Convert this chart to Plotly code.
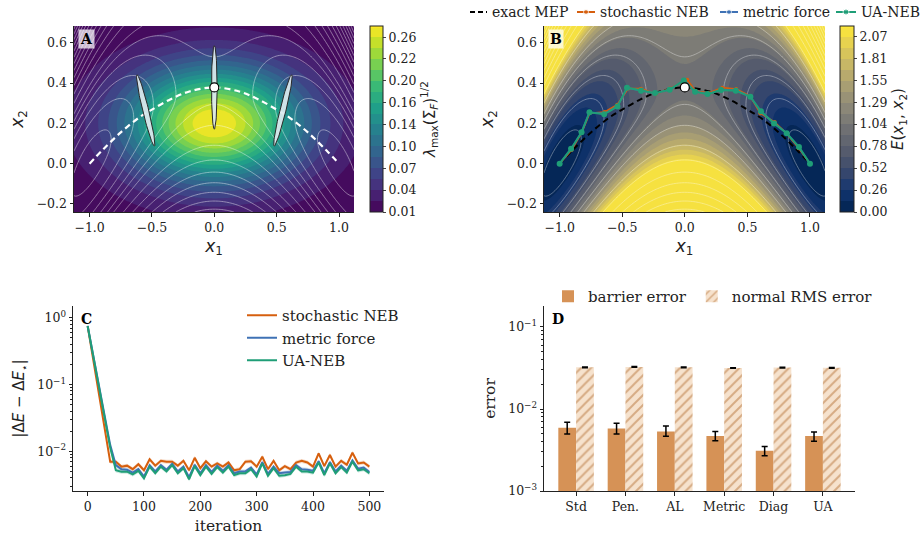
import numpy as np
import plotly.graph_objects as go

W, H = 924, 542
def px(x): return x / W
def py(y): return 1 - y / H

SERIF = "DejaVu Serif"
SANS = "DejaVu Sans"
INK = "#222222"
C_SN, C_MF, C_UA = "#d65f0e", "#3f72b5", "#1f9e77"

# ---------------- data: panels A/B ----------------
x1_range = [-1.125, 1.12]
x2_range = [-0.24, 0.683]

# exact minimum energy path
mep_x1 = [-1.0, -0.9, -0.75, -0.6, -0.5, -0.35, -0.2, 0.0, 0.2, 0.35, 0.5, 0.6, 0.75, 0.9, 1.0]
mep_x2 = [0.0, 0.065, 0.155, 0.23, 0.268, 0.32, 0.358, 0.378, 0.358, 0.32, 0.268, 0.23, 0.155, 0.065, 0.0]
saddle_x1 = [0.0]
saddle_x2 = [0.378]

# uncertainty ellipses (centre, major half-axis vector, minor half-axis vector)
ell_cx = [-0.55, 0.0, 0.55]
ell_cy = [0.264, 0.378, 0.264]
ell_ax = [-0.07, 0.0, 0.07]
ell_ay = [0.177, 0.207, 0.177]
ell_bx = [0.0233, 0.0225, 0.0233]
ell_by = [0.0036, 0.0, -0.0036]

# NEB paths (panel B)
ua_x1 = [-1.0, -0.909, -0.825, -0.762, -0.644, -0.538, -0.462, -0.350, -0.237, -0.121, -0.008,
         0.082, 0.181, 0.290, 0.407, 0.524, 0.609, 0.713, 0.814, 0.912, 1.0]
ua_x2 = [0.0, 0.074, 0.156, 0.255, 0.245, 0.283, 0.377, 0.362, 0.350, 0.367, 0.412,
         0.357, 0.345, 0.365, 0.362, 0.332, 0.260, 0.199, 0.151, 0.083, 0.0]
sn_x1 = [-1.0, -0.905, -0.824, -0.760, -0.640, -0.540, -0.452, -0.350, -0.232, -0.120, 0.020,
         0.085, 0.190, 0.300, 0.410, 0.520, 0.603, 0.718, 0.812, 0.910, 1.0]
sn_x2 = [0.0, 0.068, 0.152, 0.250, 0.256, 0.292, 0.373, 0.372, 0.345, 0.373, 0.416,
         0.360, 0.350, 0.377, 0.370, 0.336, 0.250, 0.206, 0.150, 0.076, 0.0]
mf_x1 = [-1.0, -0.908, -0.825, -0.762, -0.643, -0.538, -0.460, -0.350, -0.236, -0.121, -0.004,
         0.083, 0.183, 0.292, 0.408, 0.523, 0.607, 0.714, 0.814, 0.911, 1.0]
mf_x2 = [0.0, 0.073, 0.155, 0.254, 0.248, 0.285, 0.376, 0.364, 0.349, 0.368, 0.413,
         0.358, 0.346, 0.367, 0.364, 0.333, 0.257, 0.201, 0.151, 0.081, 0.0]

cbA_ticks = [0.0095, 0.041, 0.0725, 0.104, 0.135, 0.167, 0.198, 0.230, 0.261]
cbA_text = ["0.01", "0.04", "0.07", "0.10", "0.14", "0.16", "0.20", "0.22", "0.26"]
cbB_ticks = [0.00, 0.26, 0.52, 0.78, 1.04, 1.29, 1.55, 1.81, 2.07]

# ---------------- data: panel C ----------------
iters = list(range(0, 510, 10))
err_sn = [0.75, 0.234, 0.072, 0.0224, 0.0070, 0.0070, 0.0059, 0.0061, 0.0054, 0.0064,
          0.0052, 0.0076, 0.0061, 0.0072, 0.0070, 0.0070, 0.0061, 0.0072, 0.0052, 0.0080,
          0.0056, 0.0071, 0.0059, 0.0066, 0.0059, 0.0068, 0.0052, 0.0054, 0.0070, 0.0071,
          0.0059, 0.0083, 0.0054, 0.0072, 0.0052, 0.0060, 0.0054, 0.0068, 0.0072, 0.0068,
          0.0059, 0.0093, 0.0060, 0.0088, 0.0059, 0.0072, 0.0063, 0.0095, 0.0066, 0.0068,
          0.0059]
err_mf = [0.75, 0.27, 0.095, 0.034, 0.0125, 0.0062, 0.0054, 0.0053, 0.0048, 0.0054,
          0.0042, 0.0062, 0.0050, 0.0062, 0.0053, 0.0065, 0.0050, 0.0059, 0.0041, 0.0063,
          0.0047, 0.0062, 0.0049, 0.0061, 0.0051, 0.0062, 0.0047, 0.0050, 0.0050, 0.0057,
          0.0045, 0.0069, 0.0046, 0.0059, 0.0047, 0.0048, 0.0049, 0.0062, 0.0054, 0.0053,
          0.0051, 0.0071, 0.0047, 0.0069, 0.0050, 0.0061, 0.0051, 0.0073, 0.0055, 0.0057,
          0.0049]
err_ua = [0.75, 0.263, 0.092, 0.032, 0.0114, 0.0052, 0.00496, 0.00496, 0.00452, 0.0051,
          0.00394, 0.0059, 0.0047, 0.0059, 0.0050, 0.0062, 0.0047, 0.0056, 0.0038, 0.0060,
          0.0044, 0.0059, 0.0046, 0.0058, 0.0048, 0.0059, 0.0044, 0.0047, 0.0047, 0.0054,
          0.0042, 0.0066, 0.0043, 0.0056, 0.0043, 0.0044, 0.0046, 0.0059, 0.0050, 0.0050,
          0.0048, 0.0068, 0.0044, 0.0066, 0.0047, 0.0058, 0.0048, 0.0070, 0.0052, 0.0054,
          0.0047]
band_rel = 0.07  # relative half-width of the shaded spread

# ---------------- data: panel D ----------------
methods = ["Std", "Pen.", "AL", "Metric", "Diag", "UA"]
barrier = [0.0059, 0.0058, 0.0053, 0.0047, 0.0031, 0.0047]
barrier_hi = [0.00687, 0.00668, 0.0062, 0.00533, 0.0035, 0.00523]
barrier_lo = [0.00495, 0.00495, 0.00464, 0.0041, 0.0027, 0.00403]
rms = [0.0322, 0.0326, 0.0322, 0.0316, 0.0320, 0.0318]
rms_err = [0.0003, 0.0003, 0.0003, 0.0003, 0.0003, 0.0003]

# ---------------- fields ----------------
g1 = np.linspace(x1_range[0], x1_range[1], 181)
g2 = np.linspace(x2_range[0], x2_range[1], 121)
X, Y = np.meshgrid(g1, g2)
dd = Y - 0.378 * (1 - X**2)
kk = np.where(dd < 0, 8.5, 2.6 + 6 * X**2)
E = (1 - X**2) ** 2 + kk * dd**2
LAM = 0.0095 + 0.2675 * np.exp(-X**2 / (2 * 0.5**2) - (Y - 0.2) ** 2 / (2 * 0.2**2))

# energy iso-line sets: finer inside the wells, coarser outside
iso_sets = [(0.1, 1.3, 0.24), (1.7, 8.0, 0.4)]

fig = go.Figure()

def add_iso(xa, ya, opacity):
    for s0, s1, ds in iso_sets:
        fig.add_trace(go.Contour(
            x=g1, y=g2, z=E, xaxis=xa, yaxis=ya, autocontour=False,
            contours=dict(start=s0, end=s1, size=ds, coloring="lines"),
            colorscale=[[0, "white"], [1, "white"]], showscale=False, opacity=opacity,
            line=dict(width=0.8), showlegend=False, hoverinfo="skip"))

# ---- panel A
fig.add_trace(go.Contour(
    x=g1, y=g2, z=LAM, xaxis="x", yaxis="y", colorscale="Viridis",
    zmin=0.0095, zmax=0.277, autocontour=False,
    contours=dict(start=0.0095, end=0.277, size=(0.277 - 0.0095) / 17, coloring="fill"),
    line=dict(width=0), showlegend=False, hoverinfo="skip",
    colorbar=dict(x=px(370), xanchor="left", y=py(119), yanchor="middle",
                  len=186 / H, lenmode="fraction", thickness=13, xpad=0, ypad=0,
                  outlinewidth=1, outlinecolor=INK, ticks="outside", ticklen=3,
                  tickvals=cbA_ticks, ticktext=cbA_text,
                  tickfont=dict(family=SERIF, size=12.5, color=INK),
                  title=dict(text="<i>λ</i><sub>max</sub>(Σ<sub><i>F</i></sub>)<sup>1/2</sup>",
                             side="right", font=dict(family=SANS, size=15, color=INK)))))
add_iso("x", "y", 0.55)
fig.add_trace(go.Scatter(x=mep_x1, y=mep_x2, xaxis="x", yaxis="y", mode="lines",
                         line=dict(color="white", width=2.2, dash="6px,4px", shape="spline"),
                         showlegend=False, hoverinfo="skip"))
t = np.linspace(0, 2 * np.pi, 80)
for i in range(len(ell_cx)):
    ex = ell_cx[i] + np.cos(t) * ell_ax[i] + np.sin(t) * ell_bx[i]
    ey = ell_cy[i] + np.cos(t) * ell_ay[i] + np.sin(t) * ell_by[i]
    fig.add_trace(go.Scatter(x=ex, y=ey, xaxis="x", yaxis="y", mode="lines", fill="toself",
                             fillcolor="rgba(220,233,238,0.93)",
                             line=dict(color="#2a2a2a", width=1), showlegend=False,
                             hoverinfo="skip"))
fig.add_trace(go.Scatter(x=saddle_x1, y=saddle_x2, xaxis="x", yaxis="y", mode="markers",
                         marker=dict(size=9, color="white", line=dict(color="black", width=1.2)),
                         showlegend=False, hoverinfo="skip"))

# ---- panel B
fig.add_trace(go.Contour(
    x=g1, y=g2, z=np.minimum(E, 2.19), xaxis="x2", yaxis="y2", colorscale="Cividis",
    zmin=0, zmax=2.2, autocontour=False,
    contours=dict(start=0, end=2.2, size=2.2 / 17, coloring="fill"),
    line=dict(width=0), showlegend=False, hoverinfo="skip",
    colorbar=dict(x=px(840), xanchor="left", y=py(119), yanchor="middle",
                  len=186 / H, lenmode="fraction", thickness=14, xpad=0, ypad=0,
                  outlinewidth=1, outlinecolor=INK, ticks="outside", ticklen=3,
                  tickvals=cbB_ticks, ticktext=["%.2f" % v for v in cbB_ticks],
                  tickfont=dict(family=SERIF, size=12.5, color=INK),
                  title=dict(text="<i>E</i>(<i>x</i><sub>1</sub>, <i>x</i><sub>2</sub>)",
                             side="right", font=dict(family=SANS, size=15, color=INK)))))
add_iso("x2", "y2", 0.45)
fig.add_trace(go.Scatter(x=mep_x1, y=mep_x2, xaxis="x2", yaxis="y2", mode="lines",
                         line=dict(color="black", width=2, dash="6px,4px", shape="spline"),
                         showlegend=False, hoverinfo="skip"))
fig.add_trace(go.Scatter(x=sn_x1, y=sn_x2, xaxis="x2", yaxis="y2", mode="lines+markers",
                         line=dict(color=C_SN, width=1.6), marker=dict(size=4),
                         showlegend=False, hoverinfo="skip"))
fig.add_trace(go.Scatter(x=mf_x1, y=mf_x2, xaxis="x2", yaxis="y2", mode="lines+markers",
                         line=dict(color=C_MF, width=1.6), marker=dict(size=4),
                         showlegend=False, hoverinfo="skip"))
fig.add_trace(go.Scatter(x=ua_x1, y=ua_x2, xaxis="x2", yaxis="y2", mode="lines+markers",
                         line=dict(color=C_UA, width=2), marker=dict(size=6),
                         showlegend=False, hoverinfo="skip"))
fig.add_trace(go.Scatter(x=saddle_x1, y=saddle_x2, xaxis="x2", yaxis="y2", mode="markers",
                         marker=dict(size=9, color="white", line=dict(color="black", width=1.2)),
                         showlegend=False, hoverinfo="skip"))

# compact legend for panel B (drawn on an overlay axis measured in window pixels)
legB = [  # label, colour, dash, marker size, swatch x0, swatch x1, text x
    ("exact MEP", "black", "5px,3px", 0, 470, 487, 490),
    ("stochastic NEB", C_SN, "solid", 5, 577, 595, 598),
    ("metric force", C_MF, "solid", 5, 720, 738, 741),
    ("UA-NEB", C_UA, "solid", 6, 836, 856, 859),
]
legB_y = 12
annotations = []
for lab, col, dash, ms, s0, s1, tx in legB:
    fig.add_trace(go.Scatter(x=[s0, (s0 + s1) / 2, s1], y=[legB_y] * 3, xaxis="x5", yaxis="y5",
                             mode="lines+markers" if ms else "lines",
                             line=dict(color=col, width=2, dash=dash),
                             marker=dict(size=[0, ms, 0], color=col),
                             showlegend=False, hoverinfo="skip"))
    annotations.append(dict(text=lab, x=px(tx), y=py(legB_y), xref="paper", yref="paper",
                            xanchor="left", yanchor="middle", showarrow=False,
                            font=dict(family=SERIF, size=14, color=INK)))

# ---- panel C
series_c = [("stochastic NEB", err_sn, C_SN, "rgba(214,95,14,0.22)"),
            ("metric force", err_mf, C_MF, "rgba(63,114,181,0.22)"),
            ("UA-NEB", err_ua, C_UA, "rgba(31,158,119,0.22)")]
for name, vals, col, fcol in series_c:
    v = np.array(vals)
    fig.add_trace(go.Scatter(x=iters + iters[::-1],
                             y=list(v * (1 + band_rel)) + list((v * (1 - band_rel))[::-1]),
                             xaxis="x3", yaxis="y3", fill="toself", fillcolor=fcol,
                             line=dict(width=0), mode="lines", showlegend=False,
                             hoverinfo="skip"))
for name, vals, col, fcol in series_c:
    fig.add_trace(go.Scatter(x=iters, y=vals, xaxis="x3", yaxis="y3", mode="lines",
                             name=name, legend="legend2", line=dict(color=col, width=2)))

# ---- panel D
fig.add_trace(go.Bar(x=methods, y=barrier, xaxis="x4", yaxis="y4", name="barrier error",
                     legend="legend3", marker=dict(color="#d69256", line=dict(width=0)),
                     error_y=dict(type="data", symmetric=False,
                                  array=[h - b for h, b in zip(barrier_hi, barrier)],
                                  arrayminus=[b - l for b, l in zip(barrier, barrier_lo)],
                                  color="black", thickness=1.5, width=3)))
fig.add_trace(go.Bar(x=methods, y=rms, xaxis="x4", yaxis="y4", name="normal RMS error",
                     legend="legend3",
                     marker=dict(color="#f6e2cd", line=dict(width=0),
                                 pattern=dict(shape="/", fgcolor="#b5733a", bgcolor="#f6e2cd",
                                              size=7, solidity=0.28)),
                     error_y=dict(type="data", array=rms_err, color="black",
                                  thickness=1.5, width=3)))

# ---------------- layout ----------------
tickfont = dict(family=SERIF, size=12.5, color=INK)
def axis(**kw):
    base = dict(showline=True, linecolor=INK, linewidth=1, ticks="outside", ticklen=3.5,
                tickwidth=1, tickcolor=INK, showgrid=False, zeroline=False,
                tickfont=tickfont)
    base.update(kw)
    return base

def minor_log(lo, hi):
    vals = []
    for e in range(lo, hi):
        vals += [m * 10.0 ** e for m in range(2, 10)]
    return dict(tickmode="array", tickvals=vals, ticks="outside", ticklen=2,
                tickcolor=INK, tickwidth=0.8, showgrid=False)

xlab = dict(text="<i>x</i><sub>1</sub>", font=dict(family=SANS, size=17, color=INK), standoff=6)
ylab = dict(text="<i>x</i><sub>2</sub>", font=dict(family=SANS, size=17, color=INK), standoff=8)

annotations += [
    dict(text="<b>A</b>", x=px(78), y=py(29), xref="paper", yref="paper",
         xanchor="left", yanchor="top", showarrow=False,
         font=dict(family=SERIF, size=14, color="black"),
         bgcolor="rgba(255,255,255,0.72)", borderpad=1),
    dict(text="<b>B</b>", x=px(548), y=py(29), xref="paper", yref="paper",
         xanchor="left", yanchor="top", showarrow=False,
         font=dict(family=SERIF, size=14, color="black"),
         bgcolor="rgba(255,255,255,0.72)", borderpad=1),
    dict(text="<b>C</b>", x=px(79), y=py(309), xref="paper", yref="paper",
         xanchor="left", yanchor="top", showarrow=False,
         font=dict(family=SERIF, size=14, color="black")),
    dict(text="<b>D</b>", x=px(550), y=py(309), xref="paper", yref="paper",
         xanchor="left", yanchor="top", showarrow=False,
         font=dict(family=SERIF, size=14, color="black")),
]

fig.update_layout(
    width=W, height=H, margin=dict(l=0, r=0, t=0, b=0, autoexpand=False),
    paper_bgcolor="white", plot_bgcolor="rgba(0,0,0,0)",
    barmode="group", bargap=0.28, bargroupgap=0,
    xaxis=axis(domain=[px(74), px(354)], range=x1_range, anchor="y",
               tickvals=[-1, -0.5, 0, 0.5, 1], tickformat=".1f", title=xlab),
    yaxis=axis(domain=[py(212), py(26)], range=x2_range, anchor="x",
               tickvals=[-0.2, 0, 0.2, 0.4, 0.6], tickformat=".1f", title=ylab),
    xaxis2=axis(domain=[px(544), px(825)], range=x1_range, anchor="y2",
                tickvals=[-1, -0.5, 0, 0.5, 1], tickformat=".1f", title=xlab),
    yaxis2=axis(domain=[py(212), py(26)], range=x2_range, anchor="x2",
                tickvals=[-0.2, 0, 0.2, 0.4, 0.6], tickformat=".1f", title=ylab),
    xaxis3=axis(domain=[px(73), px(384)], range=[-26, 526], anchor="y3",
                tickvals=[0, 100, 200, 300, 400, 500],
                title=dict(text="iteration", font=dict(family=SERIF, size=15.5, color=INK), standoff=7)),
    yaxis3=axis(domain=[py(491), py(306)], type="log", range=[-2.594, 0.175], anchor="x3",
                tickvals=[1, 0.1, 0.01],
                ticktext=["10<sup>0</sup>", "10<sup>−1</sup>", "10<sup>−2</sup>"],
                minor=minor_log(-3, 1),
                title=dict(text="|Δ<i>E</i> − Δ<i>E</i><sub>⋆</sub>|",
                           font=dict(family=SANS, size=15, color=INK), standoff=8)),
    xaxis4=axis(domain=[px(544), px(855)], range=[-0.65, 5.65], anchor="y4", type="category"),
    yaxis4=axis(domain=[py(491), py(306)], type="log", range=[-3, -0.744], anchor="x4",
                tickvals=[0.001, 0.01, 0.1],
                ticktext=["10<sup>−3</sup>", "10<sup>−2</sup>", "10<sup>−1</sup>"],
                minor=minor_log(-3, 0),
                title=dict(text="error", font=dict(family=SERIF, size=15.5, color=INK), standoff=8)),
    xaxis5=dict(domain=[0, 1], range=[0, W], anchor="y5", visible=False, fixedrange=True),
    yaxis5=dict(domain=[py(26), 1], range=[26, 0], anchor="x5", visible=False, fixedrange=True),
    legend2=dict(orientation="v", x=px(242), y=py(299), xanchor="left", yanchor="top",
                 font=dict(family=SERIF, size=15, color=INK), bgcolor="rgba(0,0,0,0)",
                 itemwidth=30, tracegroupgap=6),
    legend3=dict(orientation="h", x=px(548), y=py(280), xanchor="left", yanchor="top",
                 font=dict(family=SERIF, size=15, color=INK), bgcolor="rgba(0,0,0,0)",
                 itemwidth=30),
    annotations=annotations,
)

# remove the browser's default 8px page margin so the figure fills the window exactly
fig.write_html("out.html", config={"displayModeBar": False},
               post_script="document.body.style.margin='0px';document.body.style.padding='0px';")
